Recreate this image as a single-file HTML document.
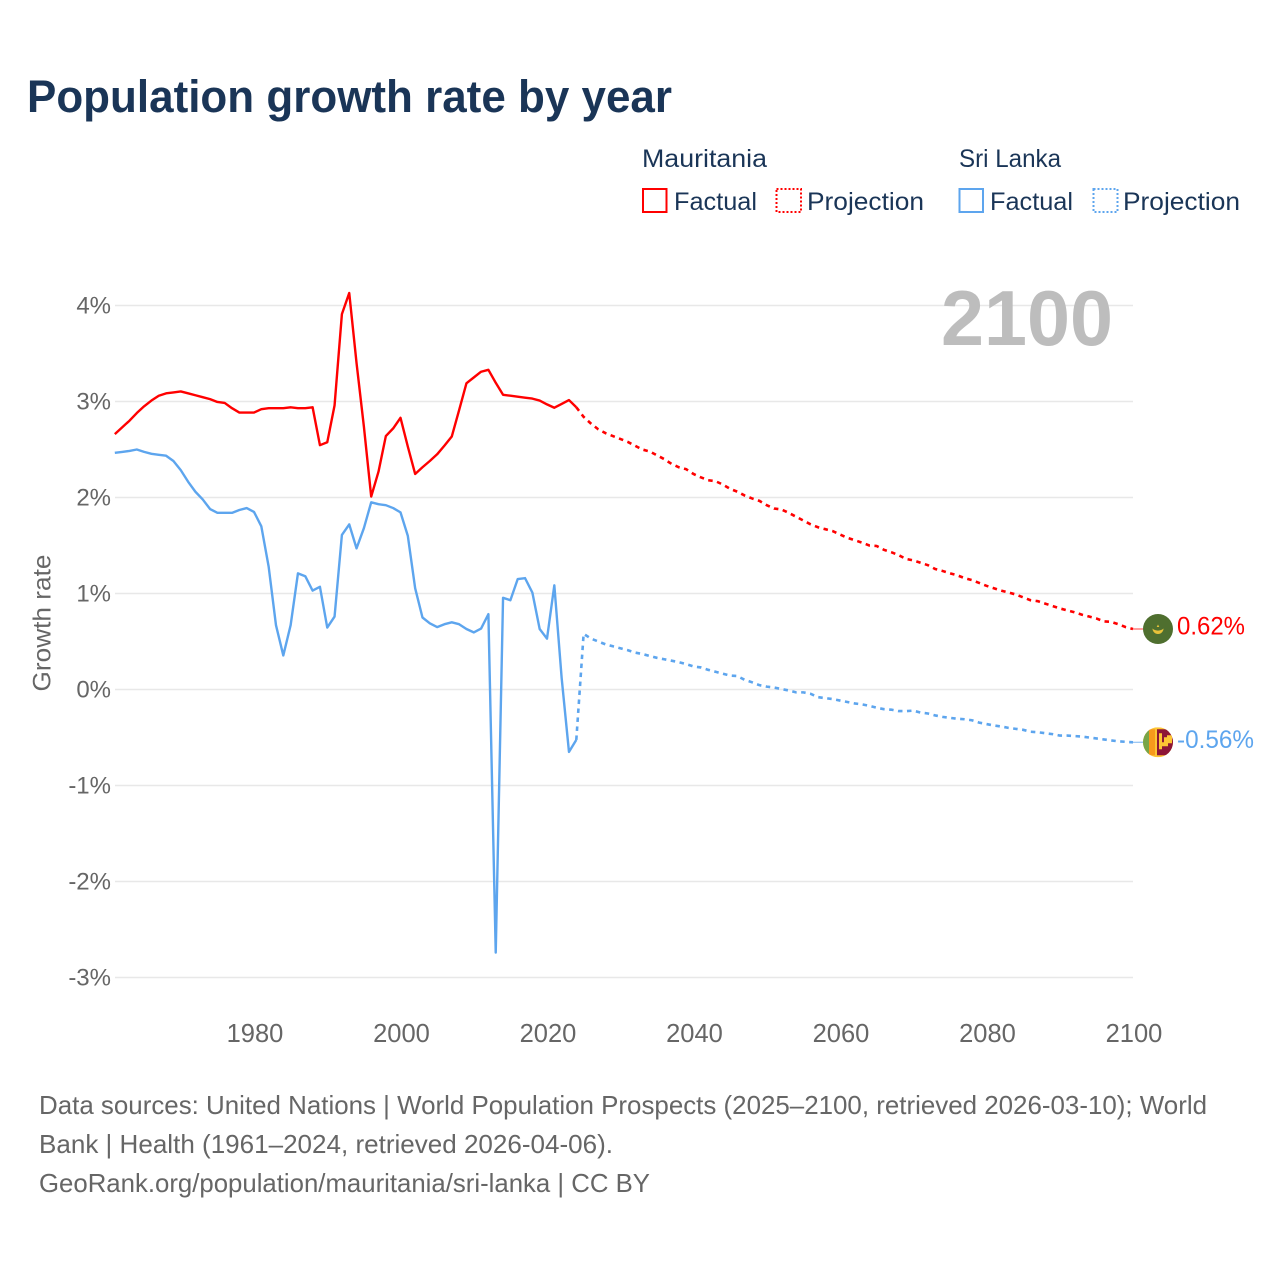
<!DOCTYPE html>
<html lang="en">
<head>
<meta charset="utf-8">
<title>Population growth rate by year</title>
<style>
html,body{margin:0;padding:0;background:#fff;}
svg{display:block;}
text{font-family:"Liberation Sans",sans-serif;}
</style>
</head>
<body>
<svg id="chart" xmlns="http://www.w3.org/2000/svg" width="1280" height="1280" viewBox="0 0 1280 1280">
  <rect x="0" y="0" width="1280" height="1280" fill="#ffffff"/>
  <text x="27" y="112" font-size="45" font-weight="700" fill="#1a3557" textLength="645" lengthAdjust="spacingAndGlyphs">Population growth rate by year</text>

  <g font-size="25" fill="#1a3557">
    <text x="642" y="167" textLength="125" lengthAdjust="spacingAndGlyphs">Mauritania</text>
    <rect x="643" y="189" width="23.5" height="23" fill="none" stroke="#ff0000" stroke-width="2"/>
    <text x="674" y="210" textLength="83" lengthAdjust="spacingAndGlyphs">Factual</text>
    <rect x="776.5" y="189" width="24.5" height="23" fill="none" stroke="#ff0000" stroke-width="2" stroke-dasharray="2 2"/>
    <text x="807" y="210" textLength="117" lengthAdjust="spacingAndGlyphs">Projection</text>
    <text x="959" y="167" textLength="102" lengthAdjust="spacingAndGlyphs">Sri Lanka</text>
    <rect x="959.5" y="189" width="23.5" height="23" fill="none" stroke="#5da5ee" stroke-width="2"/>
    <text x="990" y="210" textLength="83" lengthAdjust="spacingAndGlyphs">Factual</text>
    <rect x="1093.5" y="189" width="24" height="23" fill="none" stroke="#5da5ee" stroke-width="2" stroke-dasharray="2 2"/>
    <text x="1123" y="210" textLength="117" lengthAdjust="spacingAndGlyphs">Projection</text>
  </g>

  <g id="grid"></g>
  <g id="y-ticks"></g>
  <g id="x-ticks"></g>

  <text transform="translate(50.5,623) rotate(-90)" text-anchor="middle" font-size="25" fill="#666666" textLength="137" lengthAdjust="spacingAndGlyphs">Growth rate</text>
  <text x="941" y="345" font-size="78" font-weight="700" fill="#bdbdbd" textLength="172" lengthAdjust="spacingAndGlyphs">2100</text>

  <g id="series"></g>

  <defs>
    <clipPath id="clip-sl"><circle cx="1158" cy="743" r="15"/></clipPath>
  </defs>
  <g id="flag-mauritania">
    <circle cx="1158" cy="0" r="15" fill="#4f6f2f"/>
    <path d="M1152.5 -0.5 A5.5 5.5 0 0 0 1163.5 -0.5 A6.5 4.5 0 0 1 1152.5 -0.5 Z" fill="#e8c23a"/>
    <path d="M1158 -4.5 l1.3 2.5 l-2.6 0 Z" fill="#e8c23a"/>
  </g>
  <g id="flag-sri-lanka" clip-path="url(#clip-sl)">
    <rect x="1143" y="728" width="30" height="30" fill="#fdc534"/>
    <rect x="1143" y="728" width="6.5" height="30" fill="#78a548"/>
    <rect x="1149" y="730" width="6" height="26" fill="#f79a1c"/>
    <rect x="1157" y="730" width="16" height="26" fill="#8d1537"/>
    <path d="M1159 734 h3 v9 h2 v-5 h3 v-2 h5 v8 h-4 v3 h-6 v3 h-3 Z" fill="#fdc534"/>
  </g>

  <g id="end-labels"></g>

  <g font-size="26" fill="#666666">
    <text x="39" y="1114" textLength="1168" lengthAdjust="spacingAndGlyphs">Data sources: United Nations | World Population Prospects (2025–2100, retrieved 2026-03-10); World</text>
    <text x="39" y="1153" textLength="574" lengthAdjust="spacingAndGlyphs">Bank | Health (1961–2024, retrieved 2026-04-06).</text>
    <text x="39" y="1192" textLength="611" lengthAdjust="spacingAndGlyphs">GeoRank.org/population/mauritania/sri-lanka | CC BY</text>
  </g>
</svg>

<script>
const xTickYears = [1980, 2000, 2020, 2040, 2060, 2080, 2100];
const xTickLabels = ["1980", "2000", "2020", "2040", "2060", "2080", "2100"];
const yTickValues = [4, 3, 2, 1, 0, -1, -2, -3];
const yTickLabels = ["4%", "3%", "2%", "1%", "0%", "-1%", "-2%", "-3%"];

const factualStartYear = 1961;
const projectionStartYear = 2025;

const mauritaniaFactual = [
  2.66, 2.73, 2.80, 2.88, 2.95, 3.01, 3.06, 3.085, 3.095, 3.105,
  3.085, 3.065, 3.045, 3.025, 2.995, 2.985, 2.93, 2.885, 2.885, 2.885,
  2.92, 2.93, 2.93, 2.93, 2.94, 2.93, 2.93, 2.94, 2.545, 2.575,
  2.96, 3.91, 4.13, 3.40, 2.74, 2.01, 2.27, 2.64, 2.72, 2.83,
  2.53, 2.245, 2.315, 2.38, 2.45, 2.54, 2.635, 2.91, 3.19, 3.25,
  3.31, 3.33, 3.195, 3.07, 3.06, 3.05, 3.04, 3.03, 3.01, 2.97,
  2.935, 2.975, 3.015, 2.94
];
const mauritaniaProjection = [
  2.84, 2.77, 2.71, 2.67, 2.64, 2.61, 2.58, 2.54, 2.50, 2.48,
  2.44, 2.40, 2.35, 2.315, 2.295, 2.245, 2.21, 2.18, 2.17, 2.135,
  2.09, 2.06, 2.02, 1.99, 1.965, 1.92, 1.885, 1.875, 1.84, 1.80,
  1.76, 1.72, 1.69, 1.67, 1.65, 1.615, 1.58, 1.555, 1.53, 1.50,
  1.495, 1.455, 1.43, 1.40, 1.36, 1.345, 1.32, 1.295, 1.255, 1.235,
  1.21, 1.19, 1.16, 1.14, 1.11, 1.08, 1.055, 1.03, 1.01, 0.99,
  0.96, 0.93, 0.92, 0.895, 0.87, 0.845, 0.825, 0.805, 0.78, 0.76,
  0.74, 0.71, 0.705, 0.68, 0.65, 0.63
];
const sriLankaFactual = [
  2.465, 2.475, 2.485, 2.50, 2.475, 2.455, 2.445, 2.435, 2.38, 2.285,
  2.165, 2.06, 1.98, 1.88, 1.84, 1.84, 1.84, 1.87, 1.89, 1.85,
  1.70, 1.28, 0.67, 0.355, 0.67, 1.21, 1.18, 1.03, 1.07, 0.645,
  0.76, 1.61, 1.72, 1.47, 1.68, 1.95, 1.93, 1.92, 1.89, 1.845,
  1.60, 1.055, 0.75, 0.69, 0.65, 0.68, 0.70, 0.68, 0.63, 0.595,
  0.635, 0.785, -2.74, 0.955, 0.93, 1.15, 1.16, 1.01, 0.63, 0.53,
  1.085, 0.12, -0.65, -0.525
];
const sriLankaProjection = [
  0.58, 0.53, 0.50, 0.47, 0.45, 0.43, 0.41, 0.385, 0.37, 0.35,
  0.33, 0.315, 0.30, 0.285, 0.265, 0.24, 0.23, 0.205, 0.185, 0.165,
  0.145, 0.14, 0.10, 0.075, 0.045, 0.03, 0.02, 0.005, -0.01, -0.03,
  -0.03, -0.045, -0.08, -0.09, -0.10, -0.115, -0.13, -0.145, -0.155, -0.17,
  -0.19, -0.205, -0.21, -0.225, -0.225, -0.22, -0.24, -0.25, -0.27, -0.285,
  -0.295, -0.305, -0.31, -0.32, -0.345, -0.36, -0.375, -0.385, -0.40, -0.41,
  -0.42, -0.44, -0.445, -0.455, -0.465, -0.48, -0.48, -0.485, -0.49, -0.50,
  -0.51, -0.52, -0.53, -0.54, -0.545, -0.55
];
const endValues = [0.62, -0.56];
const endLabels = ["0.62%", "-0.56%"];

const SVG_NS = "http://www.w3.org/2000/svg";
const RED = "#ff0000";
const BLUE = "#5da5ee";
const xScale = year => 254 + (year - 1980) * 7.325;
const yScale = value => 689.5 - value * 96;

function makeEl(tag, attrs, parent) {
  const el = document.createElementNS(SVG_NS, tag);
  Object.keys(attrs).forEach(k => el.setAttribute(k, attrs[k]));
  parent.appendChild(el);
  return el;
}

const gridGroup = document.getElementById("grid");
const yTickGroup = document.getElementById("y-ticks");
yTickValues.forEach((value, i) => {
  const line = makeEl("line", {x1: 115, x2: 1133, y1: yScale(value), y2: yScale(value), stroke: "#e8e8e8", "stroke-width": 1.5}, gridGroup);
  
  
  const label = makeEl("text", {x: 111, y: yScale(value) + 8, "text-anchor": "end", "font-size": 24, fill: "#666666"}, yTickGroup);
  
  
  label.textContent = yTickLabels[i];
});

const xTickGroup = document.getElementById("x-ticks");
xTickYears.forEach((year, i) => {
  const label = makeEl("text", {x: xScale(year) + 1, y: 1042, "text-anchor": "middle", "font-size": 25.5, fill: "#666666"}, xTickGroup);
  
  
  label.textContent = xTickLabels[i];
});

function pointsOf(values, startYear) {
  return values.map((v, i) => xScale(startYear + i).toFixed(2) + "," + yScale(v).toFixed(2));
}

const seriesGroup = document.getElementById("series");

const mauritaniaFactualLine = makeEl("polyline", {points: pointsOf(mauritaniaFactual, factualStartYear).join(" "), fill: "none", stroke: RED, "stroke-width": 2.4, "stroke-linejoin": "round"}, seriesGroup);



const sriLankaFactualLine = makeEl("polyline", {points: pointsOf(sriLankaFactual, factualStartYear).join(" "), fill: "none", stroke: BLUE, "stroke-width": 2.4, "stroke-linejoin": "round"}, seriesGroup);



const mauritaniaLastYear = factualStartYear + mauritaniaFactual.length - 1;
const mauritaniaProjectionPts = [xScale(mauritaniaLastYear).toFixed(2) + "," + yScale(mauritaniaFactual[mauritaniaFactual.length - 1]).toFixed(2)].concat(pointsOf(mauritaniaProjection, projectionStartYear));
const mauritaniaProjectionLine = makeEl("polyline", {points: mauritaniaProjectionPts.join(" "), fill: "none", stroke: RED, "stroke-width": 2.6, "stroke-dasharray": "4.5 4.5"}, seriesGroup);



const sriLankaLastYear = factualStartYear + sriLankaFactual.length - 1;
const sriLankaProjectionPts = [xScale(sriLankaLastYear).toFixed(2) + "," + yScale(sriLankaFactual[sriLankaFactual.length - 1]).toFixed(2)].concat(pointsOf(sriLankaProjection, projectionStartYear));
const sriLankaProjectionLine = makeEl("polyline", {points: sriLankaProjectionPts.join(" "), fill: "none", stroke: BLUE, "stroke-width": 2.6, "stroke-dasharray": "4.5 4.5"}, seriesGroup);



const endYear = xTickYears[xTickYears.length - 1];

const mauritaniaConnector = makeEl("line", {x1: xScale(endYear), y1: yScale(mauritaniaProjection[mauritaniaProjection.length - 1]), x2: 1143, y2: yScale(endValues[0]) - 1, stroke: "#ff6666", "stroke-width": 1.2}, seriesGroup);



const sriLankaConnector = makeEl("line", {x1: xScale(endYear), y1: yScale(sriLankaProjection[sriLankaProjection.length - 1]), x2: 1143, y2: yScale(endValues[1]) - 1, stroke: "#8fc1f3", "stroke-width": 1.2}, seriesGroup);



document.getElementById("flag-mauritania").setAttribute("transform", "translate(0," + (yScale(endValues[0]) - 1).toFixed(2) + ")");
const slOffset = yScale(endValues[1]) - 1 - 743;
document.getElementById("flag-sri-lanka").setAttribute("transform", "translate(0," + slOffset.toFixed(2) + ")");

const endGroup = document.getElementById("end-labels");
const endColors = [RED, BLUE];
const endWidths = ["68", "77"];
endValues.forEach((value, i) => {
  const label = makeEl("text", {x: 1177, y: yScale(value) + 4.7, "font-size": 25, fill: endColors[i], textLength: endWidths[i], lengthAdjust: "spacingAndGlyphs"}, endGroup);
  
  
  label.textContent = endLabels[i];
});
</script>
</body>
</html>
